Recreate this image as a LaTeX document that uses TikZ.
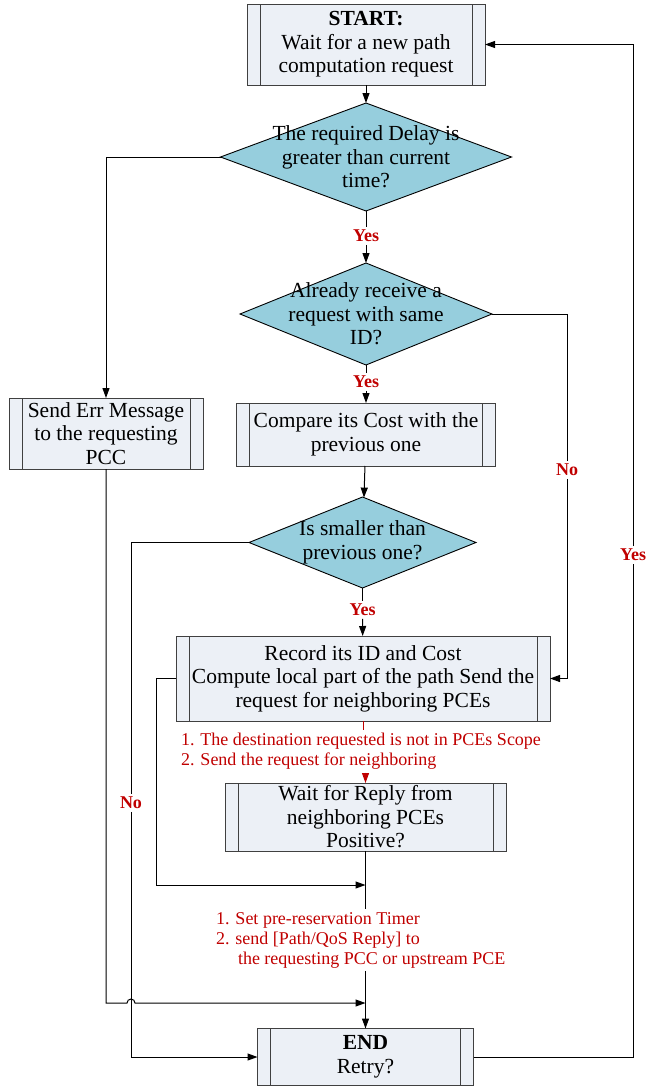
\documentclass[tikz,border=0pt]{standalone}
\usepackage{fontspec}
\setmainfont{Liberation Serif}
\usepackage{tikz}
\usetikzlibrary{arrows.meta,positioning,shapes.geometric,calc}
\definecolor{procFill}{RGB}{236,240,246}
\definecolor{procLine}{RGB}{64,64,64}
\definecolor{askFill}{RGB}{150,206,221}
\definecolor{noteRed}{RGB}{192,0,0}

\begin{document}
\begin{tikzpicture}[x=1pt, y=-1pt,
    every node/.style={font=\fontsize{21.5}{23.5}\selectfont, inner sep=0pt, outer sep=0pt},
    proc/.style={draw=procLine, fill=procFill, line width=1pt, align=center,
      path picture={\draw[procLine, line width=1pt]
        ([xshift=13pt]path picture bounding box.north west) -- ([xshift=13pt]path picture bounding box.south west)
        ([xshift=-13pt]path picture bounding box.north east) -- ([xshift=-13pt]path picture bounding box.south east);}},
    ask/.style={diamond, draw=black, fill=askFill, line width=0.9pt},
    asktext/.style={align=center},
    branch/.style={font=\fontsize{18}{20}\selectfont\bfseries, text=noteRed, inner sep=3pt},
    note/.style={font=\fontsize{18}{20}\selectfont, text=noteRed, align=left, inner ysep=3pt},
    link/.style={draw=black, line width=1pt},
    flow/.style={link, -{Triangle[length=10pt, width=7pt]}},
    redflow/.style={draw=noteRed, line width=1pt, -{Triangle[length=10pt, width=7pt]}}]
    \useasboundingbox (0,0) rectangle (649,1087);

    \node[proc, minimum width=238pt, minimum height=81pt] (start) at (366,44.5) {\textbf{START:}\\Wait for a new path\\computation request};
    \node[ask, minimum width=291pt, minimum height=108pt] (delayq) at (366,157) {};
    \node[asktext] (delaytxt) at (delayq.center) {The required Delay is\\greater than current\\time?};
    \node[proc, minimum width=194pt, minimum height=71pt] (errmsg) at (106,433.5) {Send Err Message\\to the requesting\\PCC};
    \node[ask, minimum width=252pt, minimum height=102pt] (sameid) at (366,314) {};
    \node[asktext] (sameidtxt) at (sameid.center) {Already receive a\\request with same\\ID?};
    \node[proc, minimum width=259pt, minimum height=63pt] (compare) at (366,434.5) {Compare its Cost with the\\previous one};
    \node[ask, minimum width=227pt, minimum height=91pt] (cheaper) at (362.5,542.5) {};
    \node[asktext] (cheapertxt) at (cheaper.center) {Is smaller than\\previous one?};
    \node[proc, minimum width=374pt, minimum height=85pt] (record) at (363,678.5) {Record its ID and Cost\\Compute local part of the path Send the\\request for neighboring PCEs};
    \node[note, anchor=west] (scopenote) at (181,751.5) {1. The destination requested is not in PCEs Scope\\2. Send the request for neighboring};
    \node[proc, minimum width=281pt, minimum height=68pt] (waitreply) at (365.5,817) {Wait for Reply from\\neighboring PCEs\\Positive?};
    \node[note, anchor=west] (replynote) at (216,940) {1. Set pre-reservation Timer\\2. send [Path/QoS Reply] to\\\hspace*{22pt}the requesting PCC or upstream PCE};
    \node[proc, minimum width=216pt, minimum height=57pt] (finish) at (365.5,1057) {\textbf{END}\\Retry?};

    % branch labels
    \node[branch] (yesdelay) at (366,236) {Yes};
    \node[branch] (yessame) at (366,382) {Yes};
    \node[branch] (yescheap) at (362.5,610) {Yes};
    \node[branch] (nosame) at (567,470) {No};
    \node[branch] (nocheap) at (131,803) {No};
    \node[branch] (yesretry) at (633,555) {Yes};
    \coordinate (joinrec) at (365.5,885);
    \coordinate (joinerr) at (365.5,1003);

    \draw[flow] (start) -- (delayq);
    \draw[link] (delayq) -- (yesdelay);
    \draw[flow] (yesdelay) -- (sameid);
    \draw[flow] (delayq.west) -| (errmsg.north);
    \draw[link] (sameid) -- (yessame);
    \draw[flow] (yessame) -- (compare);
    \draw[link] (sameid.east) -| (nosame);
    \draw[flow] (nosame) |- (record.east);
    \draw[flow] (compare) -- (cheaper);
    \draw[link] (cheaper) -- (yescheap);
    \draw[flow] (yescheap) -- (record);
    \draw[link] (cheaper.west) -| (nocheap);
    \draw[flow] (nocheap) |- (finish.west);
    \draw[flow] (record.west) -- ++(-20,0) |- (joinrec);
    \draw[noteRed, line width=1pt] (record.south) -- (record.south |- scopenote.north);
    \draw[redflow] (waitreply.north |- scopenote.south) -- (waitreply);
    \draw[link] (waitreply) -- (waitreply.south |- replynote.north);
    \draw[flow] (waitreply.south |- replynote.south) -- (finish);
    \draw[flow] (errmsg.south) |- ([xshift=-4pt]nocheap |- joinerr) arc[start angle=180, end angle=0, radius=4pt] -- (joinerr);
    \draw[link] (finish.east) -| (yesretry);
    \draw[flow] (yesretry) |- (start.east);
\end{tikzpicture}
\end{document}
